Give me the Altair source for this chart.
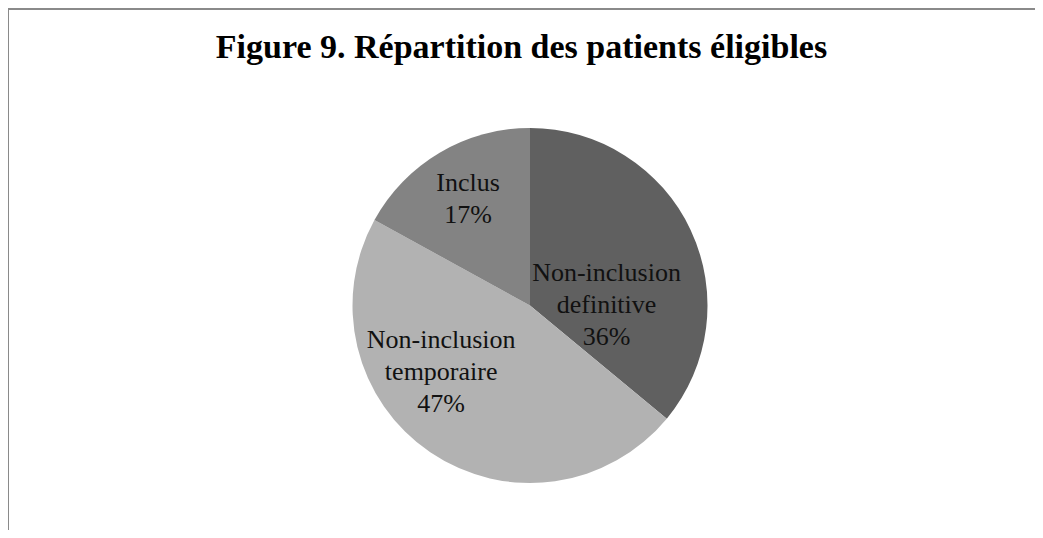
import altair as alt
import pandas as pd

categories = ["Non-inclusion definitive", "Non-inclusion temporaire", "Inclus"]
percents = [36, 47, 17]
colors = ["#606060", "#b2b2b2", "#838383"]
title_text = "Figure 9. Répartition des patients éligibles"

df = pd.DataFrame({
    "cat": categories,
    "pct": percents,
    "idx": list(range(len(categories))),
})
df["label"] = [f"{c} {p}%" for c, p in zip(categories, percents)]

W, H = 1027, 522
CX, CY, R = 522, 297.5, 177.5
FONT = "Liberation Serif"

pie = alt.Chart(df).mark_arc(radius=R, stroke=None).encode(
    theta=alt.Theta("pct:Q", stack=True),
    order=alt.Order("idx:Q"),
    color=alt.Color("cat:N", scale=alt.Scale(domain=categories, range=colors), legend=None),
    x=alt.value(CX), y=alt.value(CY),
)

offsets = {
    "Non-inclusion definitive": (-23, 14),
    "Non-inclusion temporaire": (-27, -56),
    "Inclus": (-6, -28),
}
label_base = alt.Chart(df).transform_window(
    cum="sum(pct)", sort=[alt.SortField("idx")], frame=[None, 0]
).transform_joinaggregate(
    total="sum(pct)"
).transform_calculate(
    frac="(datum.cum - datum.pct / 2) / datum.total"
)

label_layers = []
for c in categories:
    dx, dy = offsets[c]
    label_layers.append(
        label_base.transform_filter(alt.datum.cat == c)
        .mark_text(radius=110, font=FONT, fontSize=26, lineBreak=" ", lineHeight=32,
                   color="#111111", align="center", baseline="middle", dx=dx, dy=dy)
        .encode(
            theta=alt.Theta("frac:Q", stack=False,
                            scale=alt.Scale(domain=[0, 1], range=[0, 6.283185307179586])),
            text="label:N", x=alt.value(CX), y=alt.value(CY))
    )
labels = alt.layer(*label_layers)

frame = pd.DataFrame({"t": [title_text]})
title = alt.Chart(frame).mark_text(font=FONT, fontSize=34, fontWeight="bold", color="#000000",
                                   align="center", baseline="alphabetic").encode(
    text="t:N", x=alt.value(513.5), y=alt.value(50))

border_top = alt.Chart(frame).mark_rule(color="#8a8a8a", strokeWidth=2).encode(
    x=alt.value(0), x2=alt.value(W), y=alt.value(1))
border_left = alt.Chart(frame).mark_rule(color="#8a8a8a", strokeWidth=2).encode(
    x=alt.value(0), y=alt.value(0), y2=alt.value(H))

chart = alt.layer(pie, labels, title, border_top, border_left).resolve_scale(
    theta="independent"
).properties(
    width=W, height=H, autosize=alt.AutoSizeParams(type="none"), padding=0,
    background="#ffffff",
).configure_view(stroke=None)

chart.save("out.html", embed_options={"renderer": "svg", "actions": False})
